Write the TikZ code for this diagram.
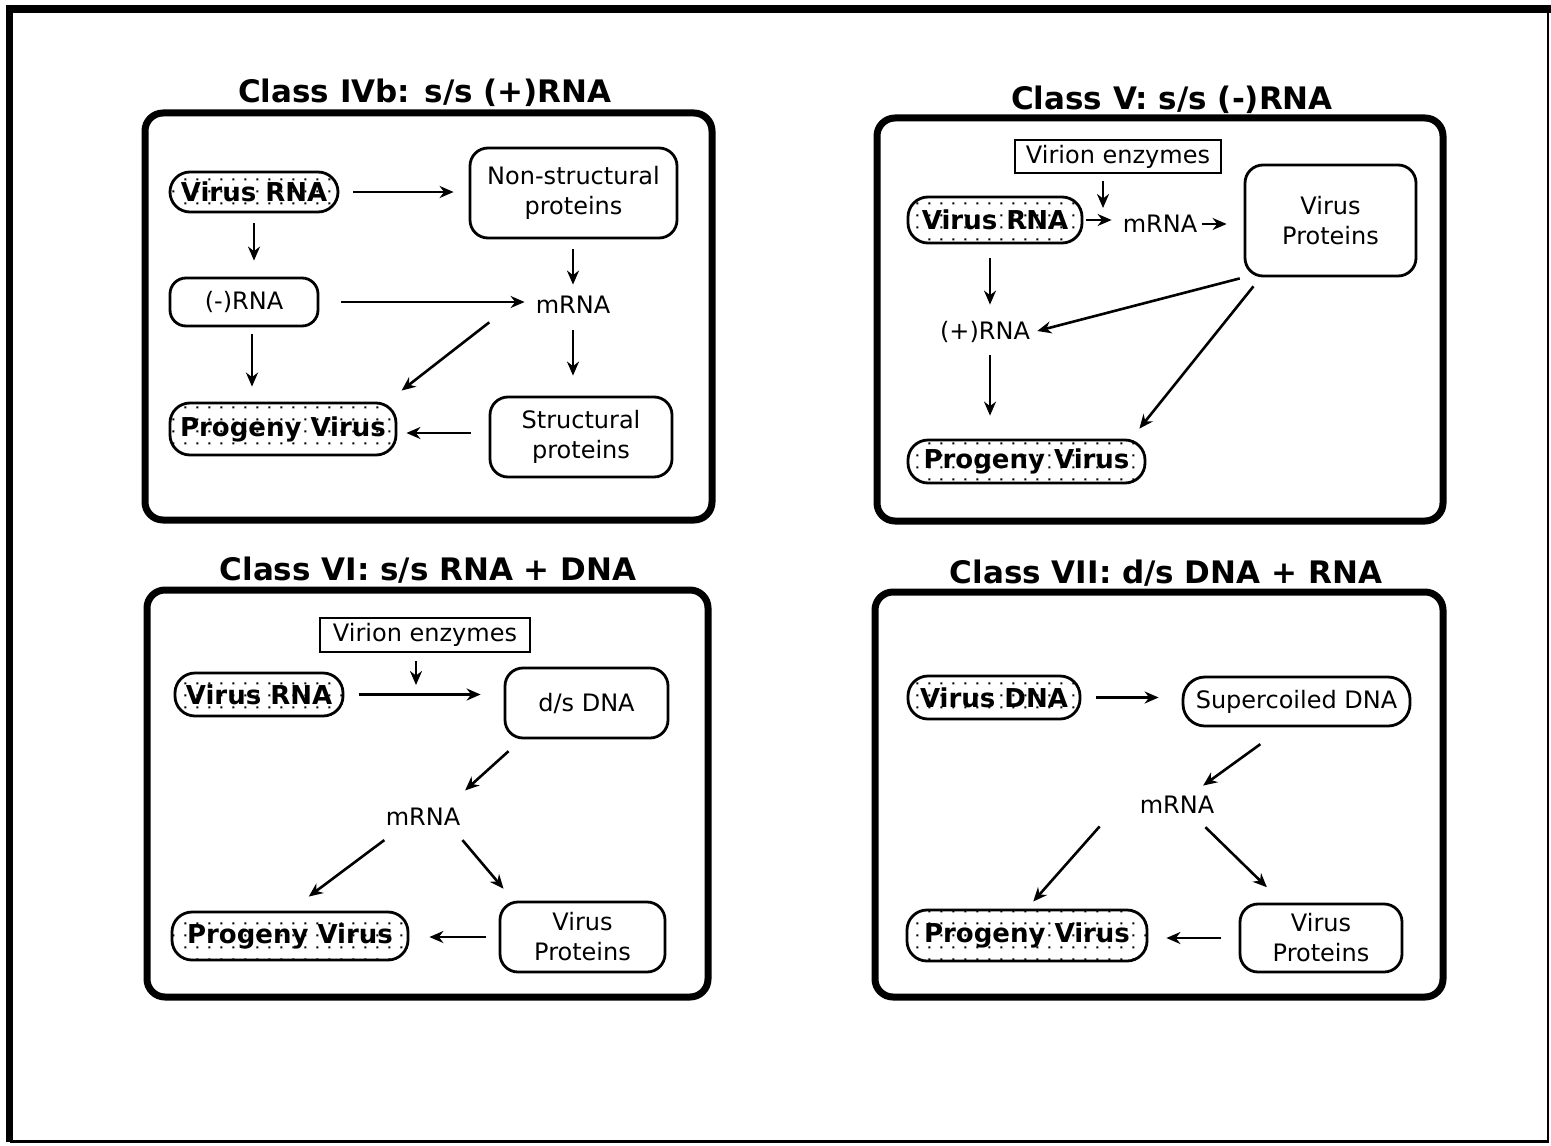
\documentclass[tikz,border=0pt]{standalone}
\usepackage{fontspec}
\setmainfont{DejaVu Sans}
\usetikzlibrary{arrows.meta,patterns.meta,calc}
\tikzdeclarepattern{
  name=sparsedots,
  type=uncolored,
  bottom left={(0pt,0pt)},
  top right={(6pt,6pt)},
  tile size={(6pt,6pt)},
  code={\fill (2.4pt,2.4pt) rectangle (3.5pt,3.5pt);}
}
\tikzset{
  panel/.style={draw, line width=3.5pt, rounded corners=9pt, inner sep=0pt},
  title/.style={font=\bfseries\fontsize{15.5}{18}\selectfont, inner sep=0pt},
  pill/.style={draw, line width=1.4pt, rounded corners=10pt, pattern=sparsedots, pattern color=black, font=\bfseries\fontsize{13}{15}\selectfont, inner sep=0pt},
  rbox/.style={draw, line width=1.4pt, rounded corners=9pt, font=\fontsize{12}{15}\selectfont, align=center, inner sep=0pt},
  sbox/.style={draw, line width=1.2pt, font=\fontsize{12}{14}\selectfont, inner sep=0pt},
  lbl/.style={font=\fontsize{12}{14}\selectfont, inner sep=0pt, minimum width=40pt, minimum height=12pt},
  arr/.style={-{Stealth[length=7pt,width=6pt]}, line width=1.3pt},
}
\begin{document}
\begin{tikzpicture}[x=0.5pt,y=-0.5pt]
\useasboundingbox (0,0) rectangle (1551,1145);
\fill[white] (0,0) rectangle (1551,1145);
% outer frame
\draw[line width=4pt] (6,9) -- (1551,9);
\draw[line width=3.5pt] (9.5,5) -- (9.5,1142);
\draw[line width=1.2pt] (9.5,1141.5) -- (1548,1141.5) -- (1548,9);

% ---------- Panel 1 : Class IVb ----------
\node[panel, minimum width=283.5pt, minimum height=203.5pt] (p1) at (428.5,316.5) {};
\node[title] (t1) at (425,93) {Class IVb: s/s (+)RNA};
\node[pill, minimum width=84pt, minimum height=20pt] (vrna1) at (254,192) {Virus RNA};
\node[rbox, minimum width=103.5pt, minimum height=45pt] (nsp1) at (573.5,193) {Non-structural\\proteins};
\node[rbox, rounded corners=8pt, minimum width=74pt, minimum height=24pt] (mrn1) at (244,302) {(-)RNA};
\node[lbl] (m1) at (573,305) {mRNA};
\node[pill, minimum width=113pt, minimum height=26pt] (pv1) at (283,429) {Progeny Virus};
\node[rbox, minimum width=91pt, minimum height=40pt] (sp1) at (581,437) {Structural\\proteins};

\draw[arr, shorten <=7pt, shorten >=7.5pt] (vrna1.east) -- (vrna1.east -| nsp1.west);
\draw[arr, shorten <=5pt, shorten >=8pt] (vrna1.south) -- (vrna1.south |- mrn1.north);
\draw[arr, shorten <=5pt, shorten >=4pt] (m1.north |- nsp1.south) -- (m1.north);
\draw[arr, shorten <=11pt, shorten >=4pt] (mrn1.east) -- (mrn1.east -| m1.west);
\draw[arr, shorten <=4pt, shorten >=9pt] ($(m1.south west)+(-37,0)$) -- ($(pv1.north east)+(-10,0)$);
\draw[arr, shorten <=3.5pt, shorten >=7.5pt] ([xshift=4pt]mrn1.south) -- ([xshift=4pt]mrn1.south |- pv1.north);
\draw[arr, shorten <=6.5pt, shorten >=10pt] (m1.south) -- (m1.south |- sp1.north);
\draw[arr, shorten <=9pt, shorten >=4.5pt] ([yshift=-2pt]pv1.east -| sp1.west) -- ([yshift=-2pt]pv1.east);

% ---------- Panel 2 : Class V ----------
\node[panel, minimum width=283pt, minimum height=201.5pt] (p2) at (1160,319.5) {};
\node[title] (t2) at (1172,100) {Class V: s/s (-)RNA};
\node[sbox, minimum width=103pt, minimum height=16.5pt] (ve2) at (1118,156.5) {Virion enzymes};
\node[pill, minimum width=87pt, minimum height=23pt] (vrna2) at (995,220) {Virus RNA};
\node[lbl] (m2) at (1160,224) {mRNA};
\node[rbox, minimum width=85.5pt, minimum height=55.5pt] (vp2) at (1330.5,220.5) {Virus\\Proteins};
\node[lbl, minimum width=48pt] (pr2) at (985,332) {(+)RNA};
\node[pill, minimum width=118.5pt, minimum height=21.5pt] (pv2) at (1026.5,461.5) {Progeny Virus};
\coordinate (j2) at (1103,214);

\draw[arr, shorten <=3.5pt, shorten >=3pt] (ve2.south -| j2) -- (j2);
\draw[arr, shorten <=1.5pt, shorten >=4pt] (vrna2.east) -- (vrna2.east -| m2.west);
\draw[arr, shorten <=1pt, shorten >=8.5pt] (m2.east) -- (m2.east -| vp2.west);
\draw[arr, shorten <=7pt, shorten >=7.5pt] ([xshift=2.5pt]pr2.north |- vrna2.south) -- ([xshift=2.5pt]pr2.north);
\draw[arr, shorten <=5.5pt, shorten >=11.5pt] ([xshift=2.5pt]pr2.south) -- ([xshift=2.5pt]pr2.south |- pv2.north);
\draw[arr, shorten <=2pt, shorten >=2pt] (vp2.south west) -- (pr2.east);
\draw[arr, shorten <=5.7pt, shorten >=6.4pt] ($(vp2.south west)+(17,0)$) -- ($(pv2.north east)+(-15,0)$);

% ---------- Panel 3 : Class VI ----------
\node[panel, minimum width=280.5pt, minimum height=203.5pt] (p3) at (427.5,793.5) {};
\node[title] (t3) at (428,570) {Class VI: s/s RNA + DNA};
\node[sbox, minimum width=105pt, minimum height=17pt] (ve3) at (425,635) {Virion enzymes};
\node[pill, minimum width=84pt, minimum height=21.5pt] (vrna3) at (259,694.5) {Virus RNA};
\node[rbox, minimum width=81.5pt, minimum height=35pt] (ds3) at (586.5,703) {d/s DNA};
\node[lbl] (m3) at (423,817) {mRNA};
\node[pill, minimum width=118pt, minimum height=24pt] (pv3) at (290,936) {Progeny Virus};
\node[rbox, minimum width=82.5pt, minimum height=35pt] (vp3) at (582.5,937) {Virus\\Proteins};
\coordinate (j3) at (416,692);

\draw[arr, shorten <=7.5pt, shorten >=11.5pt] (vrna3.east) -- (vrna3.east -| ds3.west);
\draw[arr, shorten <=4pt, shorten >=3.5pt] (ve3.south -| j3) -- (j3);
\draw[arr, shorten <=8.8pt, shorten >=10.6pt] ($(ds3.south west)+(18,0)$) -- ($(m3.north east)+(-14,0)$);
\draw[arr, shorten <=8.9pt, shorten >=11.7pt] ($(m3.south west)+(16,0)$) -- (pv3.north);
\draw[arr, shorten <=7pt, shorten >=7.8pt] ($(m3.south east)+(-10,0)$) -- ($(vp3.north west)+(15,0)$);
\draw[arr, shorten <=6.5pt, shorten >=10pt] (vp3.west) -- (vp3.west -| pv3.east);

% ---------- Panel 4 : Class VII ----------
\node[panel, minimum width=284pt, minimum height=202.5pt] (p4) at (1159,794.5) {};
\node[title] (t4) at (1166,573) {Class VII: d/s DNA + RNA};
\node[pill, minimum width=86pt, minimum height=21.5pt] (vdna4) at (994,697.5) {Virus DNA};
\node[rbox, rounded corners=11pt, minimum width=113.5pt, minimum height=24.5pt] (sc4) at (1296.5,701.5) {Supercoiled DNA};
\node[lbl] (m4) at (1177,805) {mRNA};
\node[pill, minimum width=120pt, minimum height=25.5pt] (pv4) at (1027,935.5) {Progeny Virus};
\node[rbox, minimum width=81pt, minimum height=34pt] (vp4) at (1321,938) {Virus\\Proteins};

\draw[arr, shorten <=7.5pt, shorten >=11.5pt] (vdna4.east) -- (vdna4.east -| sc4.west);
\draw[arr, shorten <=14.3pt, shorten >=6pt] ($(sc4.south)+(-13,0)$) -- ($(m4.north east)+(-24,0)$);
\draw[arr, shorten <=6pt, shorten >=4.7pt] ($(m4.south west)+(-29,0)$) -- (pv4.north);
\draw[arr, shorten <=7pt, shorten >=11pt] ($(m4.south east)+(-22,0)$) -- ($(vp4.north west)+(44,0)$);
\draw[arr, shorten <=9pt, shorten >=9pt] (vp4.west) -- (vp4.west -| pv4.east);
\end{tikzpicture}
\end{document}
